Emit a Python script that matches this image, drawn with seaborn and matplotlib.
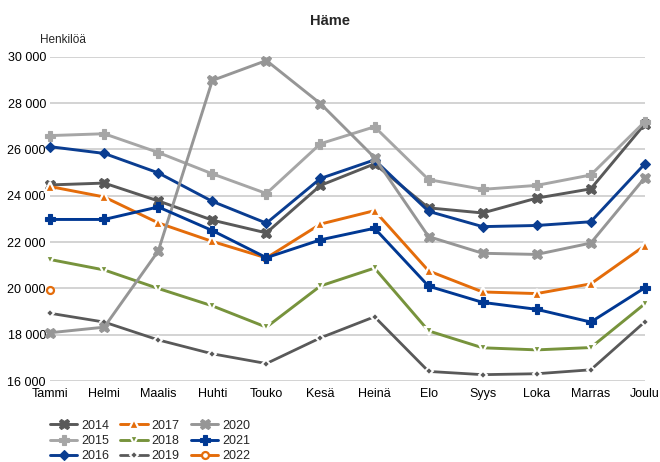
"""Häme: monthly counts 2014-2022, one line per year."""
import numpy as np
import pandas as pd
import matplotlib.pyplot as plt
import seaborn as sns
from matplotlib.ticker import FuncFormatter

months = ["Tammi", "Helmi", "Maalis", "Huhti", "Touko", "Kesä",
          "Heinä", "Elo", "Syys", "Loka", "Marras", "Joulu"]

y2014 = [24470, 24550, 23780, 22950, 22400, 24450, 25380, 23480, 23260, 23900, 24300, 27100]
y2015 = [26600, 26680, 25870, 24950, 24100, 26250, 26980, 24700, 24280, 24450, 24900, 27200]
y2016 = [26120, 25830, 24990, 23760, 22820, 24750, 25550, 23330, 22670, 22720, 22880, 25380]
y2017 = [24400, 23950, 22830, 22030, 21320, 22780, 23360, 20760, 19850, 19780, 20200, 21850]
y2018 = [21250, 20800, 20000, 19250, 18330, 20110, 20880, 18170, 17440, 17350, 17450, 19340]
y2019 = [18930, 18550, 17780, 17180, 16760, 17870, 18780, 16420, 16280, 16320, 16490, 18560]
y2020 = [18090, 18330, 21620, 28980, 29840, 27980, 25650, 22240, 21520, 21470, 21960, 24780]
y2021 = [22980, 22980, 23520, 22500, 21330, 22100, 22600, 20100, 19400, 19100, 18550, 20030]
y2022 = [19920] + [np.nan] * 11

years = ["2014", "2015", "2016", "2017", "2018", "2019", "2020", "2021", "2022"]
series = [y2014, y2015, y2016, y2017, y2018, y2019, y2020, y2021, y2022]

# line/marker look per year (colour, width, marker, size, face, edge, edge width)
styles = {
    "2014": ("#595959", 2.1, "X", 7.5, "#595959", "#595959", 0.8),
    "2015": ("#a6a6a6", 2.1, "P", 7.5, "#a6a6a6", "#a6a6a6", 0.8),
    "2016": ("#0a3d91", 2.1, "D", 5.5, "#0a3d91", "#0a3d91", 0.8),
    "2017": ("#e46c0a", 2.1, "^", 6.5, "#e46c0a", "white", 1.6),
    "2018": ("#77933c", 2.1, "v", 6.0, "#77933c", "white", 1.6),
    "2019": ("#595959", 2.0, "D", 4.5, "#595959", "white", 1.4),
    "2020": ("#969696", 2.1, "X", 7.5, "#969696", "#969696", 0.8),
    "2021": ("#003893", 2.1, "P", 7.5, "#003893", "#003893", 0.8),
    "2022": ("#e46c0a", 2.1, "o", 5.0, "white", "#e46c0a", 1.6),
}

sns.set_style("white")
plt.rcParams["font.family"] = ["Liberation Sans", "DejaVu Sans"]

fig = plt.figure(figsize=(6.6, 4.62), dpi=100)
ax = fig.add_axes([0.076, 0.175, 0.901, 0.702])

for yr, vals in zip(years, series):
    d = pd.DataFrame({"kk": np.arange(12), "n": vals})
    c, lw, mk, ms, mfc, mec, mew = styles[yr]
    sns.lineplot(data=d, x="kk", y="n", ax=ax, label=yr, color=c,
                 linewidth=lw, marker=mk, markersize=ms, markerfacecolor=mfc,
                 markeredgecolor=mec, markeredgewidth=mew, clip_on=False,
                 zorder=3)

ax.set_xlim(0, 11)
ax.set_ylim(16000, 30000)
ax.set_yticks(np.arange(16000, 30001, 2000))
ax.yaxis.set_major_formatter(FuncFormatter(lambda v, p: f"{int(v):,}".replace(",", " ")))
ax.set_xticks(np.arange(12))
ax.set_xticklabels(months)
ax.tick_params(axis="both", length=0, labelsize=9, colors="black")
ax.tick_params(axis="x", pad=5)
ax.tick_params(axis="y", pad=3)
ax.grid(axis="y", color="#d0d0d0", lw=1.3)
ax.set_axisbelow(True)
for s in ax.spines.values():
    s.set_visible(False)
ax.set_xlabel(""); ax.set_ylabel("")

fig.text(0.5, 0.955, "Häme", ha="center", va="center", fontsize=10.5, fontweight="bold")
fig.text(0.06, 0.913, "Henkilöä", ha="left", va="center", fontsize=8.5)

ax.legend(ncol=3, loc="upper left", bbox_to_anchor=(0.066, 0.105),
          bbox_transform=fig.transFigure, frameon=False, fontsize=9,
          handlelength=2.2, handletextpad=0.3, columnspacing=0.9,
          labelspacing=0.26, borderpad=0)

fig.savefig("out.png", dpi=100)
